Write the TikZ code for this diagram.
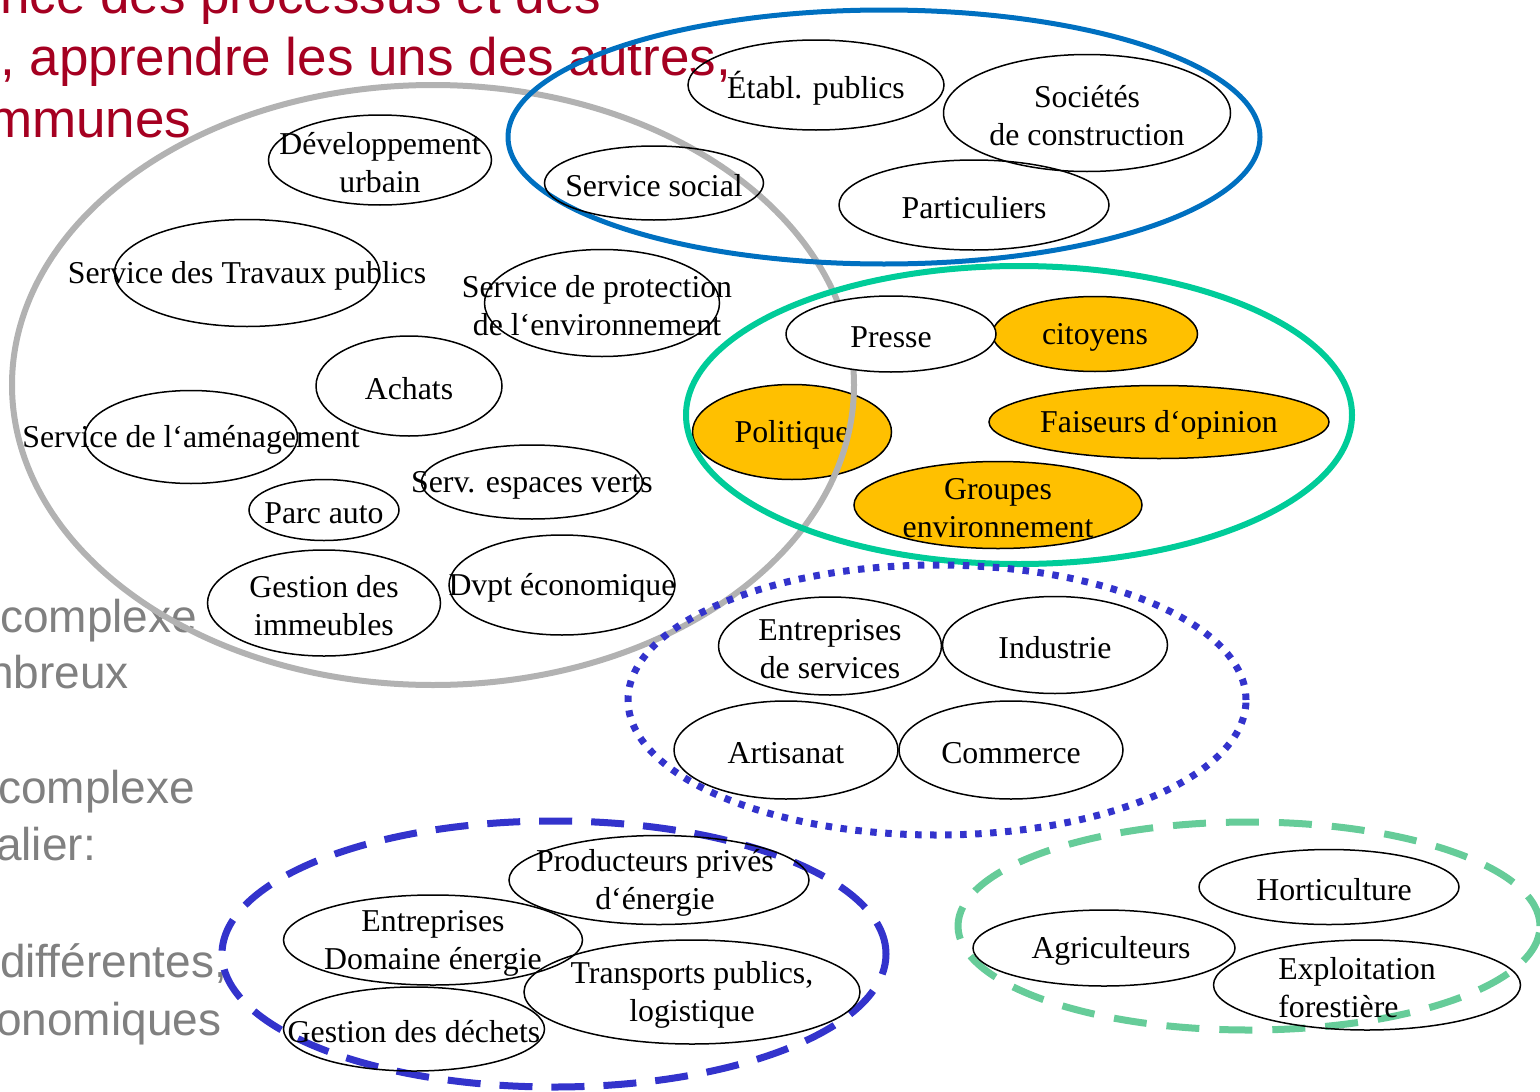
\documentclass[tikz,border=0pt]{standalone}
\usepackage{fontspec}
\setmainfont{Liberation Serif}
\newfontfamily\slidefont{Liberation Sans}
\usepackage{tikz}
\usetikzlibrary{shapes.geometric}
\definecolor{titrerouge}{RGB}{165,0,33}
\definecolor{textegris}{RGB}{128,128,128}
\definecolor{communegris}{RGB}{178,178,178}
\definecolor{bleupublic}{RGB}{0,112,192}
\definecolor{vertopinion}{RGB}{0,204,153}
\definecolor{bleueco}{RGB}{51,51,204}
\definecolor{vertagri}{RGB}{102,204,153}
\definecolor{orangefond}{RGB}{255,192,0}

\begin{document}
\begin{tikzpicture}[x=1pt, y=-1pt,
    acteur/.style={draw, ellipse, inner sep=0pt, line width=1.5pt},
    chaud/.style={acteur, fill=orangefond},
    taille/.style 2 args={minimum width=#1pt, minimum height=#2pt},
    groupe/.style={ellipse, inner sep=0pt, line width=6pt},
    every label/.style={align=center, inner sep=0pt, yshift=-3pt, font=\fontsize{31.8}{38}\selectfont},
    titre/.style={anchor=base west, inner sep=0pt, text=titrerouge, font=\slidefont\fontsize{53}{62}\selectfont},
    puce/.style={anchor=base west, inner sep=0pt, text=textegris, font=\slidefont\fontsize{46}{57}\selectfont}]
    \useasboundingbox (0,0) rectangle (1540,1092);
    \clip (0,0) rectangle (1540,1092);

    % texte de la diapositive
    \node[titre] (t1) at (0,13) {nce des processus et des};
    \node[titre] (t2) at (0,75) {, apprendre les uns des autres,};
    \node[titre] (t3) at (-12,137) {mmunes};
    \node[puce] (p1) at (0,632) {complexe};
    \node[puce] (p2) at (-12,688) {nbreux};
    \node[puce] (p3) at (-2,803) {complexe};
    \node[puce] (p4) at (-4,860) {alier:};
    \node[puce] (p5) at (0,977) {différentes,};
    \node[puce] (p6) at (-4,1035) {onomiques};

    % acteurs en orange
    \node[chaud, taille={199}{95}, label={center:Politique}] (politique) at (792,432) {};
    \node[chaud, taille={205}{75}, label={center:citoyens}] (citoyens) at (1095,334) {};
    \node[chaud, taille={340}{73}, label={center:Faiseurs d‘opinion}] (faiseurs) at (1159,422) {};
    \node[chaud, taille={288}{87}, label={center:{Groupes\\environnement}}] (groupes) at (998,505) {};

    % groupes
    \node[groupe, draw=communegris, taille={842}{600}] (commune) at (433,385) {};
    \node[groupe, draw=bleupublic, line width=5pt, taille={752}{254}] (public) at (884,137) {};
    \node[groupe, draw=vertopinion, taille={666}{298}] (opinion) at (1019,415) {};
    \node[groupe, draw=bleueco, line width=7pt, dash pattern=on 6.5pt off 8.5pt, taille={618}{270}] (economie) at (937,700) {};
    \node[groupe, draw=bleueco, line width=7pt, dash pattern=on 33pt off 19pt, taille={664}{266}] (energie) at (554,954) {};
    \node[groupe, draw=vertagri, line width=7pt, dash pattern=on 33pt off 20pt, taille={582}{208}] (agri) at (1249,926) {};

    % administration communale
    \node[acteur, taille={223}{90}, label={center:{Développement\\urbain}}] (urbain) at (380,160) {};
    \node[acteur, taille={265}{107}, label={center:Service des Travaux publics}] (travaux) at (247,273) {};
    \node[acteur, taille={235}{107}, label={[xshift=-5pt]center:{Service de protection\\de l‘environnement}}] (protection) at (602,303) {};
    \node[acteur, taille={186}{100}, label={center:Achats}] (achats) at (409,386) {};
    \node[acteur, taille={213}{93}, label={center:Service de l‘aménagement}] (amenagement) at (191,437) {};
    \node[acteur, taille={150}{61}, label={center:Parc auto}] (parc) at (324,510) {};
    \node[acteur, taille={221}{74}, label={center:Serv. espaces verts}] (verts) at (532,482) {};
    \node[acteur, taille={233}{106}, label={center:{Gestion des\\immeubles}}] (immeubles) at (324,603) {};
    \node[acteur, taille={226}{100}, label={center:Dvpt économique}] (dvpt) at (562,585) {};

    % secteur public
    \node[acteur, taille={256}{90}, label={center:Établ. publics}] (etabl) at (816,85) {};
    \node[acteur, taille={287}{117}, label={center:{Sociétés\\de construction}}] (societes) at (1087,113) {};
    \node[acteur, taille={219}{74}, label={center:Service social}] (social) at (654,183) {};
    \node[acteur, taille={270}{90}, label={center:Particuliers}] (particuliers) at (974,205) {};

    \node[acteur, fill=white, taille={210}{76}, label={center:Presse}] (presse) at (891,334) {};

    % economie
    \node[acteur, taille={223}{98}, label={center:{Entreprises\\de services}}] (services) at (830,646) {};
    \node[acteur, taille={225}{97}, label={center:Industrie}] (industrie) at (1055,645) {};
    \node[acteur, taille={224}{98}, label={center:Artisanat}] (artisanat) at (786,750) {};
    \node[acteur, taille={224}{98}, label={center:Commerce}] (commerce) at (1011,750) {};

    % energie et transports
    \node[acteur, taille={300}{89}, label={[xshift=-4pt]center:{Producteurs privés\\d‘énergie}}] (producteurs) at (659,880) {};
    \node[acteur, taille={299}{90}, label={center:{Entreprises\\Domaine énergie}}] (domaine) at (433,940) {};
    \node[acteur, taille={336}{104}, label={center:{Transports publics,\\logistique}}] (transports) at (692,992) {};
    \node[acteur, taille={261}{84}, label={center:Gestion des déchets}] (dechets) at (414,1029) {};

    % agriculture
    \node[acteur, taille={260}{75}, label={[xshift=5pt]center:Horticulture}] (horticulture) at (1329,887) {};
    \node[acteur, taille={262}{76}, label={[xshift=7pt]center:Agriculteurs}] (agriculteurs) at (1104,948) {};
    \node[acteur, taille={307}{90}, label={[align=left, xshift=-10pt]center:{Exploitation\\forestière}}] (foret) at (1367,985) {};
\end{tikzpicture}
\end{document}
